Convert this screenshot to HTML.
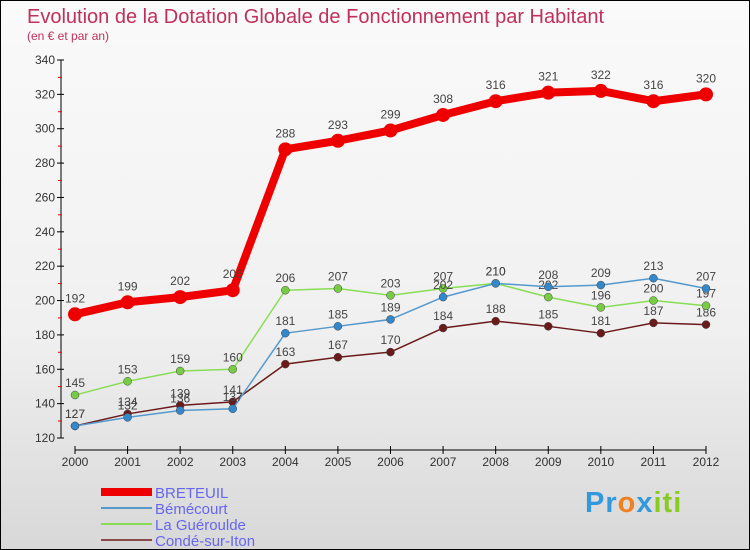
<!DOCTYPE html>
<html><head><meta charset="utf-8"><style>
body{margin:0}
#c{width:748px;height:548px;border:1px solid #000;position:relative;background:linear-gradient(#fafafa,#f0f0f0 60%,#d8d8d8);font-family:"Liberation Sans",sans-serif;overflow:hidden}
</style></head><body>
<div id="c">
<svg id="s" width="748" height="548" xmlns="http://www.w3.org/2000/svg">
<text x="26" y="22" font-size="20" fill="#c0305a">Evolution de la Dotation Globale de Fonctionnement par Habitant</text>
<text x="26" y="39" font-size="12" fill="#c0305a">(en € et par an)</text>
<g id="g"></g>
</svg>
<div style="position:absolute;left:584px;top:486px;font-size:29px;font-weight:bold;letter-spacing:1px"><span style="color:#3399dd">Pr</span><span style="color:#f08020">o</span><span style="color:#3399dd">x</span><span style="color:#88cc22">iti</span></div>
</div>
<script>
const years=["2000","2001","2002","2003","2004","2005","2006","2007","2008","2009","2010","2011","2012"];
const breteuil=[192,199,202,206,288,293,299,308,316,321,322,316,320];
const bemecourt=[127,132,136,137,181,185,189,202,210,208,209,213,207];
const gueroulde=[145,153,159,160,206,207,203,207,210,202,196,200,197];
const conde=[127,134,139,141,163,167,170,184,188,185,181,187,186];
const yTicks=[120,140,160,180,200,220,240,260,280,300,320,340];
const NS="http://www.w3.org/2000/svg";
const g=document.getElementById('g');
const X=i=>74+i*(705-74)/12;
const Y=v=>437-(v-120)*(437-59)/220;
function el(t,a,p){const e=document.createElementNS(NS,t);for(const k in a)e.setAttribute(k,a[k]);(p||g).appendChild(e);return e;}
let e=el('line',{x1:60,y1:59,x2:60,y2:437,stroke:'#000'});

e=el('line',{x1:74,y1:449,x2:705,y2:449,stroke:'#000'});

yTicks.forEach(v=>{const y=Y(v);
el('line',{x1:56,y1:y,x2:63,y2:y,stroke:'#000'});
if(v<340)el('line',{x1:57,y1:y-17,x2:61,y2:y-17,stroke:'#e00'});
const t=el('text',{x:54,y:y+4,'font-size':12,fill:'#333','text-anchor':'end'});t.textContent=v;
});
years.forEach((yr,i)=>{const x=X(i);el('line',{x1:x,y1:445,x2:x,y2:453,stroke:'#000'});
const t=el('text',{x:x,y:465,'font-size':12,fill:'#333','text-anchor':'middle'});t.textContent=yr;
});
const series=[[conde,'#6b1a1a','#6b1a1a',1.5,4,'conde'],[gueroulde,'#88dd55','#77cc44',1.5,4,'gueroulde'],[bemecourt,'#5599cc','#3388cc',1.5,4,'bemecourt'],[breteuil,'#ee0000','#ee0000',8,7,'breteuil']];
series.forEach(([d,c,fc,w,r,n])=>{
const p=el('polyline',{points:d.map((v,i)=>X(i)+','+Y(v)).join(' '),fill:'none',stroke:c,'stroke-width':w,'stroke-linejoin':'round'});

d.forEach((v,i)=>{const m=el('circle',{cx:X(i),cy:Y(v),r:r,fill:fc,stroke:n=='breteuil'?'none':'#444','stroke-width':0.5});

const t=el('text',{x:X(i),y:Y(v)-(n=='breteuil'?12:8),'font-size':12,fill:'#444','text-anchor':'middle'});t.textContent=v;
});});
const leg=[['BRETEUIL','#ee0000',8],['Bémécourt','#5599cc',2],['La Guéroulde','#88dd55',2],['Condé-sur-Iton','#8b4a4a',2]];
leg.forEach(([n,c,w],i)=>{const y=491+i*16;
el('line',{x1:100,y1:y,x2:151,y2:y,stroke:c,'stroke-width':w});
const t=el('text',{x:154,y:y+6,'font-size':15,fill:'#6666ee'});t.textContent=n;
});
</script>
</body></html>
